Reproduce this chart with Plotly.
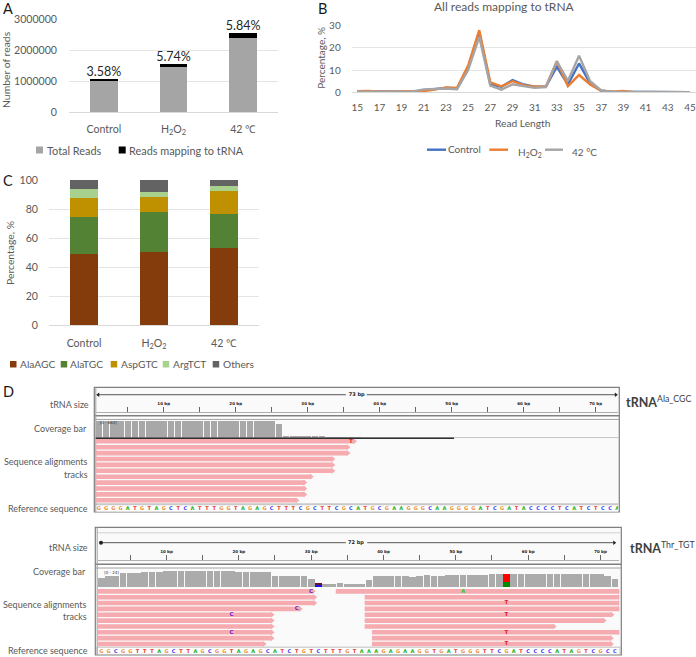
import plotly.graph_objects as go

W, H = 696, 657
GREY = "#595959"
FONT = "Lato"
GRID = "#E4E4E4"

# ---------- data ----------
conditions = ["Control", "H<sub>2</sub>O<sub>2</sub>", "42 ℃"]
total_reads = [1030000, 1460000, 2400000]
trna_reads = [40000, 80000, 140000]
pct_labels = ["3.58%", "5.74%", "5.84%"]

read_length = list(range(15, 46))
len_control = [.5, .5, .3, .3, .5, .3, 1.0, 1.5, 2, 1.8, 11, 27, 3.5, 2.5, 5.5, 3.5, 2.5, 2.5, 11.5, 3.5, 13, 4, .7, .3, .3, .1, .3, .3, 0, .2, 0]
len_h2o2 = [.5, .6, .3, .3, .4, .3, .6, 1.2, 2.2, 2, 12, 28, 4.5, 2.7, 5, 3.2, 2.5, 2.5, 14, 2.8, 7.8, 3.5, .7, .3, .6, .1, .1, .1, 0, .1, 0]
len_42 = [.3, .3, .3, .3, .5, .4, 1.3, 1.6, 1.7, 1.4, 10, 25, 3, 1.2, 3.6, 2.8, 2, 2.3, 14, 5.2, 16.5, 5, .8, .3, .3, .1, .2, .3, 0, .2, 0]

ala_agc = [49.2, 50.6, 53.3]
ala_tgc = [25.1, 27.3, 23.3]
asp_gtc = [13.5, 10.4, 15.6]
arg_tct = [6.0, 3.7, 3.9]
others = [6.2, 8.0, 3.9]

seq_ala = "GGGGATGTAGCTCATTTGGTAGAGCTTTCGCTTCGCATGCGAAGGGCAAGGGGATCGATACCCCTCATCTCCA"
seq_thr = "GGCGGTTTAGCTTAGCGGTAGAGCATCTGTCTTTGTAAAGAGAAGGTGATGGGTTCGATCCCCATAGTCGCCT"

cov_ala_pos = list(range(1, 38))
cov_ala = [660] * 25 + [550, 90, 90, 60, 60, 40, 40, 20, 20, 20, 8, 8]
reads_ala_row = [1, 2, 3, 4, 5, 6, 7, 8, 9, 10, 11]
reads_ala_end = [36.5, 35.6, 35.6, 33.5, 33.5, 33.5, 30.5, 29.6, 29.6, 29.6, 28.5]

cov_thr_pos = list(range(1, 73))
cov_thr = [13, 15, 15, 20, 20, 20, 21, 21, 21, 22, 22, 22, 22, 22, 23, 23, 23, 23, 22, 21, 21, 21, 21, 21,
           16, 16, 16, 16, 16, 12, 0, 5, 5, 6, 5, 5, 4, 10, 16, 16, 16, 16, 16, 14, 16, 17, 16, 16, 17, 17,
           17, 17, 17, 17, 19, 18, 0, 18, 18, 18, 18, 18, 18, 18, 18, 18, 18, 18, 18, 18, 16, 12]
mut_pos = [31, 57]
mut_low = [4, 8]
mut_high = [1, 10]
reads_thr_row = [1, 2, 3, 4, 5, 6, 7, 8, 9, 10]
reads_thr_left_end = [30.3, 30.5, 30.5, 28.5, 24.6, 24.6, 24.6, 24.6, 24.6, 23.5]
reads_thr_start = [33.4, 37.4, 37.4, 37.4, 37.4, 37.4, 37.4, 38.4, 38.4, 38.4]
reads_thr_end = [72.6, 72.6, 72.6, 72.6, 71.6, 70.5, 63.6, 72.6, 71.5, 71.5]
mm_pos = [30, 28, 19, 19, 51, 57, 57, 57, 57]
mm_row = [1, 4, 5, 8, 1, 3, 5, 8, 10]
mm_base = ["C", "C", "C", "C", "A", "T", "T", "T", "T"]

BASE = {"A": "#22B022", "C": "#3A3AF0", "G": "#E8913A", "T": "#E83030"}
MM = {"A": "#30D030", "C": "#6A20D8", "T": "#E02020"}


# ---------- helpers ----------
def dx(a, b):
    return [a / W, b / W]


def dy(a, b):
    return [1 - b / H, 1 - a / H]


annos = []


def label(x, y, t, size=9.6, color=GREY, anchor="left", angle=0, **kw):
    annos.append(dict(x=x / W, y=1 - y / H, xref="paper", yref="paper", text=t, showarrow=False,
                      xanchor=anchor, yanchor="middle", textangle=angle, borderpad=0,
                      font=dict(size=size, color=color, family=kw.get("family", FONT))))


shapes = []


def rect(x0, y0, x1, y1, fill, line=None, lw=1, layer="below"):
    shapes.append(dict(type="rect", xref="paper", yref="paper", x0=x0 / W, x1=x1 / W, y0=1 - y0 / H, y1=1 - y1 / H,
                       fillcolor=fill, line=dict(color=line or "rgba(0,0,0,0)", width=lw if line else 0), layer=layer))


def hline(x0, x1, y, color, lw=1, layer="above"):
    shapes.append(dict(type="line", xref="paper", yref="paper", x0=x0 / W, x1=x1 / W, y0=1 - y / H, y1=1 - y / H,
                       line=dict(color=color, width=lw), layer=layer))


fig = go.Figure()

# ---------- A ----------
fig.add_bar(x=conditions, y=total_reads, name="Total Reads", marker_color="#A5A5A5", xaxis="x", yaxis="y", showlegend=False)
fig.add_bar(x=conditions, y=trna_reads, name="Reads mapping to tRNA", marker_color="#000000", xaxis="x", yaxis="y", showlegend=False)
fig.add_scatter(x=conditions, y=[a + b for a, b in zip(total_reads, trna_reads)], text=pct_labels, mode="text",
                textposition="top center", textfont=dict(size=12.5, color="#262626", family=FONT),
                xaxis="x", yaxis="y", showlegend=False, cliponaxis=False)

# ---------- B ----------
for name, vals, col in [("Control", len_control, "#4472C4"), ("H2O2", len_h2o2, "#ED7D31"), ("42 °C", len_42, "#A5A5A5")]:
    fig.add_scatter(x=read_length, y=vals, name=name, mode="lines", line=dict(color=col, width=2.4),
                    xaxis="x2", yaxis="y2", showlegend=False)

# ---------- C ----------
for name, vals, col in [("AlaAGC", ala_agc, "#843C0C"), ("AlaTGC", ala_tgc, "#548235"), ("AspGTC", asp_gtc, "#BF9000"),
                        ("ArgTCT", arg_tct, "#A9D18E"), ("Others", others, "#636363")]:
    fig.add_bar(x=conditions, y=vals, name=name, marker_color=col, xaxis="x3", yaxis="y3", showlegend=False)


# ---------- D ----------
def ruler(xa, ya, segs, marks, size_pos, size_text, ytop, ylab, labels):
    xs, ys = [], []
    for a, b in segs:
        xs += [a, b, None]
        ys += [ytop, ytop, None]
    fig.add_scatter(x=xs, y=ys, mode="lines", line=dict(color="#555555", width=1), xaxis=xa, yaxis=ya, showlegend=False)
    fig.add_scatter(x=marks[0], y=[ytop, ytop], mode="markers", marker=dict(symbol=marks[1], size=4, color="#222222"),
                    xaxis=xa, yaxis=ya, showlegend=False)
    fig.add_scatter(x=[size_pos], y=[ytop], mode="text", text=[f"<b>{size_text}</b>"], textfont=dict(size=5, color="#222222", family="DejaVu Sans"),
                    xaxis=xa, yaxis=ya, showlegend=False)
    fig.add_scatter(x=labels, y=[ylab] * len(labels), mode="text", text=[f"<b>{v} bp</b>" for v in labels],
                    textfont=dict(size=4, color="#222222", family="DejaVu Sans"), xaxis=xa, yaxis=ya, showlegend=False)


def seqtrace(seq, xa, ya):
    fig.add_scatter(x=list(range(1, len(seq) + 1)), y=[0.5] * len(seq), mode="text", text=[f"<b>{c}</b>" for c in seq],
                    textfont=dict(size=5, color=[BASE[c] for c in seq], family="DejaVu Sans"),
                    xaxis=xa, yaxis=ya, showlegend=False)


def readtrace(starts, ends, rows, xa, ya):
    xs, ys = [], []
    for s, e, r in zip(starts, ends, rows):
        xs += [s, e, None]
        ys += [r, r, None]
    fig.add_scatter(x=xs, y=ys, mode="lines", line=dict(color="#F5ABAF", width=4.6), xaxis=xa, yaxis=ya, showlegend=False)
    fig.add_scatter(x=ends, y=rows, mode="markers", marker=dict(symbol="triangle-right", size=5, color="#F5ABAF"),
                    xaxis=xa, yaxis=ya, showlegend=False, cliponaxis=True)


ticks5 = list(range(5, 75, 5))
labels10 = list(range(10, 80, 10))

# D1: x4 shared with y4 (ruler), y5 (coverage), y6 (reads), y7 (sequence)
ruler("x4", "y4", [(0.75, 35.3), (38.2, 72.8)], ([0.9, 72.8], ["triangle-left", "triangle-right"]), 36.8, "73 bp", 0.72, 0.35, labels10)
fig.add_bar(x=cov_ala_pos, y=cov_ala, marker_color="#A8A8A8", width=0.9, xaxis="x4", yaxis="y5", showlegend=False)
fig.add_scatter(x=[2.3], y=[590], mode="text", text=["[0 - 663]"], textfont=dict(size=4, color="#333333", family="DejaVu Sans"),
                xaxis="x4", yaxis="y5", showlegend=False)
readtrace([0.55] * 11, reads_ala_end, reads_ala_row, "x4", "y6")
fig.add_scatter(x=[36], y=[1], mode="text", text=["<b>T</b>"], textfont=dict(size=5, color=MM["T"], family="DejaVu Sans"),
                xaxis="x4", yaxis="y6", showlegend=False)
seqtrace(seq_ala, "x4", "y7")

# D2: x5 shared with y8 (ruler), y9 (coverage), y10 (reads), y11 (sequence)
ruler("x5", "y8", [(0.8, 34.8), (37.75, 71.9)], ([0.95, 71.9], ["circle", "triangle-right"]), 36.2, "72 bp", 0.57, 0.25, labels10)
fig.add_bar(x=cov_thr_pos, y=cov_thr, marker_color="#ABABAB", width=0.93, xaxis="x5", yaxis="y9", showlegend=False)
fig.add_bar(x=mut_pos, y=mut_low, marker_color=["#1515E8", "#008A00"], width=0.93, xaxis="x5", yaxis="y9", showlegend=False)
fig.add_bar(x=mut_pos, y=mut_high, marker_color=["#701030", "#FF0000"], width=0.93, xaxis="x5", yaxis="y9", showlegend=False)
fig.add_scatter(x=[2.4], y=[19.5], mode="text", text=["[0 - 24]"], textfont=dict(size=4, color="#333333", family="DejaVu Sans"),
                xaxis="x5", yaxis="y9", showlegend=False)
readtrace([0.49] * 10, reads_thr_left_end, reads_thr_row, "x5", "y10")
readtrace(reads_thr_start, reads_thr_end, reads_thr_row, "x5", "y10")
fig.add_scatter(x=mm_pos, y=mm_row, mode="text", text=[f"<b>{b}</b>" for b in mm_base],
                textfont=dict(size=5.5, color=[MM[b] for b in mm_base], family="DejaVu Sans"),
                xaxis="x5", yaxis="y10", showlegend=False)
seqtrace(seq_thr, "x5", "y11")

# frames
rect(94.3, 387.3, 619.3, 512, "#FAFAFA", "#7F7F7F", 1.2)
rect(96, 416, 618, 420, "#FFFFFF")
hline(94.3, 619.3, 415.8, "#808080", 1.6, layer="below")
hline(94.3, 619.3, 419.4, "#A0A0A0", 1, layer="below")
hline(95.7, 619, 437.6, "#C4C4C4", 1, layer="below")
hline(95.7, 454, 438.2, "#303030", 1.5)
rect(95.7, 503.2, 618, 505.6, "#C8C8C8")
rect(95.7, 505.6, 618, 511.4, "#FFFFFF")
shapes.append(dict(type="line", xref="paper", yref="paper", x0=95.8 / W, x1=95.8 / W, y0=1 - 387.3 / H, y1=1 - 512 / H,
                   line=dict(color="#A0A0A0", width=1), layer="below"))

rect(95.3, 527.3, 621.3, 655, "#FAFAFA", "#7F7F7F", 1.2)
rect(97, 565, 620, 568, "#FFFFFF")
hline(95.3, 621.3, 564.2, "#808080", 1.6, layer="below")
hline(95.3, 621.3, 568, "#A0A0A0", 1, layer="below")
hline(97, 620, 532.8, "#D0D0D0", 1, layer="below")
rect(97, 647.2, 620, 654.4, "#FFFFFF", "#B0B0B0", 0.8)
shapes.append(dict(type="line", xref="paper", yref="paper", x0=97.2 / W, x1=97.2 / W, y0=1 - 527.3 / H, y1=1 - 655 / H,
                   line=dict(color="#A0A0A0", width=1), layer="below"))

# ---------- text around the panels ----------
for t, x, y in [("A", 2, 8), ("B", 317, 8), ("C", 2, 180), ("D", 2, 391)]:
    label(x, y, t, size=14.5, color="#1A1A1A")
label(504, 6, "All reads mapping to tRNA", size=12, anchor="center")
label(523, 122.5, "Read Length", size=10.2, anchor="center")
label(6, 70, "Number of reads", size=10.4, anchor="center", angle=-90)
label(320.7, 58, "Percentage, %", size=10, anchor="center", angle=-90)
label(10, 253, "Percentage, %", size=10.4, anchor="center", angle=-90)

# legends
rect(36, 146.5, 43, 153.5, "#A5A5A5")
label(46, 150, "Total Reads", size=10.9)
rect(118.7, 146.5, 125.7, 153.5, "#000000")
label(128.3, 150, "Reads mapping to tRNA", size=10.9)

hline(427, 446, 149.7, "#4472C4", 2.4)
label(447, 149, "Control", size=10)
hline(489.3, 508, 149.7, "#ED7D31", 2.4)
label(516.7, 152, "H<sub>2</sub>O<sub>2</sub>", size=10)
hline(545, 563, 149.7, "#A5A5A5", 2.4)
label(570.7, 152, "42 °C", size=10)

for x_sq, x_t, t, c in [(10, 19.3, "AlaAGC", "#843C0C"), (60.7, 69.3, "AlaTGC", "#548235"), (110.7, 120, "AspGTC", "#BF9000"),
                        (162.7, 172, "ArgTCT", "#A9D18E"), (212.7, 221.7, "Others", "#636363")]:
    rect(x_sq, 361, x_sq + 6.5, 367.5, c)
    label(x_t, 364, t, size=10.2)

for t, x, y in [("tRNA size", 90, 404), ("Coverage bar", 88, 428), ("Sequence alignments", 88.7, 461.7), ("tracks", 88.7, 474),
                ("Reference sequence", 89.3, 508.3), ("tRNA size", 89.3, 547.3), ("Coverage bar", 87.3, 571),
                ("Sequence alignments", 88, 604), ("tracks", 88, 616), ("Reference sequence", 88.7, 650.7)]:
    label(x, y, t, size=9, anchor="right")

label(625, 401, "<b>tRNA</b><sup>Ala_CGC</sup>", size=12.5, color="#404040")
label(628.7, 547, "<b>tRNA</b><sup>Thr_TGT</sup>", size=12.5, color="#404040")

# ---------- layout ----------
tf = dict(size=10.6, color=GREY, family=FONT)
tf_b = dict(size=10, color=GREY, family=FONT)
hidden = dict(visible=False, fixedrange=True)
layout = dict(
    template="none",
    width=W, height=H, margin=dict(l=0, r=0, t=0, b=0), autosize=False, paper_bgcolor="white", plot_bgcolor="rgba(0,0,0,0)",
    barmode="stack", bargap=0.6, showlegend=False, font=dict(family=FONT), shapes=shapes, annotations=annos,
    xaxis=dict(domain=dx(69, 278), anchor="y", type="category", showgrid=False, showline=True, linecolor="#D9D9D9",
               ticks="", tickfont=tf, ticklabelstandoff=7),
    yaxis=dict(domain=dy(19, 112), anchor="x", range=[0, 3000000], tickvals=[0, 1000000, 2000000, 3000000], tickformat="d",
               gridcolor=GRID, zeroline=False, tickfont=tf, ticklabelstandoff=11),
    xaxis2=dict(domain=dx(351.7, 695.5), anchor="y2", range=[14.5, 45.5], tickvals=read_length[::2], showgrid=False,
                showline=True, linecolor="#D9D9D9", ticks="", tickfont=tf_b, ticklabelstandoff=6),
    yaxis2=dict(domain=dy(25.7, 92.3), anchor="x2", range=[0, 30], tickvals=[0, 10, 20, 30], gridcolor=GRID, zeroline=False,
                tickfont=tf_b, ticklabelstandoff=10),
    xaxis3=dict(domain=dx(49, 259), anchor="y3", type="category", showgrid=False, showline=True, linecolor="#D9D9D9",
                ticks="", tickfont=tf, ticklabelstandoff=8),
    yaxis3=dict(domain=dy(180, 325), anchor="x3", range=[0, 100], tickvals=[0, 20, 40, 60, 80, 100], gridcolor=GRID,
                zeroline=False, tickfont=tf, ticklabelstandoff=10),
    xaxis4=dict(domain=dx(95.7, 618), anchor="y4", range=[0.55, 73.1], tickvals=ticks5, ticks="inside", ticklen=5, tickcolor="#666666",
                showticklabels=False, showgrid=False, showline=True, linecolor="#B0B0B0", zeroline=False),
    yaxis4=dict(domain=dy(388, 412), anchor="x4", range=[0, 1], **hidden),
    yaxis5=dict(domain=dy(421, 438), anchor="x4", range=[0, 663], **hidden),
    yaxis6=dict(domain=dy(438.35, 503.25), anchor="x4", range=[11.5, 0.5], **hidden),
    yaxis7=dict(domain=dy(505.6, 511.4), anchor="x4", range=[0, 1], **hidden),
    xaxis5=dict(domain=dx(97.7, 619.3), anchor="y8", range=[0.49, 72.6], tickvals=ticks5, ticks="inside", ticklen=5, tickcolor="#666666",
                showticklabels=False, showgrid=False, showline=True, linecolor="#B0B0B0", zeroline=False),
    yaxis8=dict(domain=dy(530, 559.5), anchor="x5", range=[0, 1], **hidden),
    yaxis9=dict(domain=dy(570, 587.3), anchor="x5", range=[0, 24], **hidden),
    yaxis10=dict(domain=dy(588.4, 646.9), anchor="x5", range=[10.5, 0.5], **hidden),
    yaxis11=dict(domain=dy(648, 655), anchor="x5", range=[0, 1], **hidden),
)
fig.update_layout(**layout)
fig.write_html("out.html", config={"displayModeBar": False},
               post_script="document.body.style.margin='0';document.documentElement.style.overflow='hidden';")
